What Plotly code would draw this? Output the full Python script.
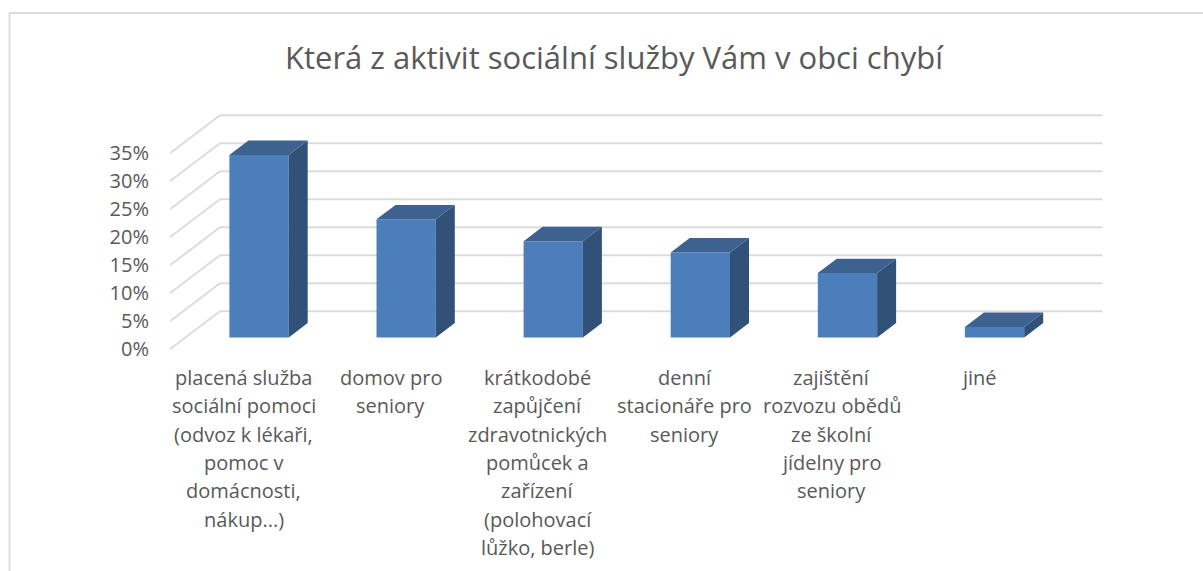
import plotly.graph_objects as go

title = "Která z aktivit sociální služby Vám v obci chybí"
categories = [
    ["placená služba", "sociální pomoci", "(odvoz k lékaři,", "pomoc v", "domácnosti,", "nákup...)"],
    ["domov pro", "seniory"],
    ["krátkodobé", "zapůjčení", "zdravotnických", "pomůcek a", "zařízení", "(polohovací", "lůžko, berle)"],
    ["denní", "stacionáře pro", "seniory"],
    ["zajištění", "rozvozu obědů", "ze školní", "jídelny pro", "seniory"],
    ["jiné"],
]
values = [32.6, 21.1, 17.2, 15.2, 11.5, 1.9]
y_ticks = [0, 5, 10, 15, 20, 25, 30, 35]

W, H = 1203, 571
PX_X = 147.1
PX_Y = 5.6
X0, Y0 = 170.0, 349.3
DX = 50.0 / PX_X
DY = 38.0 / PX_Y
D_FRONT, D_BACK = 0.31, 0.69
BAR_W = 59.3 / PX_X

C_FRONT, C_TOP, C_SIDE = "#4d7ebc", "#3d6290", "#315179"
C_GRID, C_TEXT = "#dcdcdc", "#595959"
FONT = "Open Sans"

n = len(values)
x_max = n + DX
top_px = 100.0
y_max = (Y0 - top_px) / PX_Y
y_min = -(H - Y0) / PX_Y
right_px = X0 + x_max * PX_X

fig = go.Figure()

centers = [i + 0.5 + D_FRONT * DX for i in range(n)]
fig.add_trace(go.Bar(
    x=centers, y=values, base=[D_FRONT * DY] * n, width=BAR_W,
    marker=dict(color=C_FRONT, line=dict(width=0)), showlegend=False, hoverinfo="skip",
))

dd = D_BACK - D_FRONT
for c, v in zip(centers, values):
    l, r = c - BAR_W / 2, c + BAR_W / 2
    b = D_FRONT * DY
    t = b + v
    fig.add_trace(go.Scatter(
        x=[l, r, r + dd * DX, l + dd * DX, l], y=[t, t, t + dd * DY, t + dd * DY, t],
        mode="lines", fill="toself", fillcolor=C_TOP, line=dict(width=0),
        showlegend=False, hoverinfo="skip"))
    fig.add_trace(go.Scatter(
        x=[r, r + dd * DX, r + dd * DX, r, r], y=[b, b + dd * DY, t + dd * DY, t, b],
        mode="lines", fill="toself", fillcolor=C_SIDE, line=dict(width=0),
        showlegend=False, hoverinfo="skip"))

shapes = []
for v in y_ticks:
    shapes.append(dict(type="line", xref="x", yref="y", layer="below",
                       x0=0, y0=v, x1=DX, y1=v + DY, line=dict(color=C_GRID, width=2)))
    shapes.append(dict(type="line", xref="x", yref="y", layer="below",
                       x0=DX, y0=v + DY, x1=x_max, y1=v + DY, line=dict(color=C_GRID, width=2)))
shapes.append(dict(type="line", xref="paper", yref="paper", x0=9.5 / W, x1=9.5 / W,
                   y0=0, y1=1 - 13 / H, line=dict(color=C_GRID, width=2)))
shapes.append(dict(type="line", xref="paper", yref="paper", x0=9 / W, x1=1203 / W,
                   y0=1 - 13 / H, y1=1 - 13 / H, line=dict(color=C_GRID, width=2)))

annotations = []
LINE_PX = 28.3
FIRST_PX = 377.5
for i, lines in enumerate(categories):
    for k, line in enumerate(lines):
        annotations.append(dict(
            x=i + 0.5, xref="x", y=(Y0 - (FIRST_PX + k * LINE_PX)) / PX_Y, yref="y",
            text=line, showarrow=False, xanchor="center", yanchor="middle",
            font=dict(family=FONT, size=20, color=C_TEXT)))

fig.update_layout(
    width=W, height=H, autosize=False,
    margin=dict(l=0, r=0, t=0, b=0),
    paper_bgcolor="white", plot_bgcolor="rgba(0,0,0,0)",
    showlegend=False, barmode="overlay",
    title=dict(text=title, x=614 / W, xanchor="center", y=1 - 58 / H, yanchor="middle",
               font=dict(family=FONT, size=31, color=C_TEXT)),
    font=dict(family=FONT, color=C_TEXT),
    shapes=shapes, annotations=annotations,
    xaxis=dict(domain=[X0 / W, right_px / W], range=[0, x_max], showgrid=False, automargin=False,
               zeroline=False, showline=False, showticklabels=False, ticks=""),
    yaxis=dict(domain=[0, 1 - top_px / H], range=[y_min, y_max], showgrid=False, automargin=False,
               zeroline=False, showline=False, tickmode="array", tickvals=y_ticks,
               ticktext=[f"{v}%" for v in y_ticks], ticks="", ticklabelstandoff=20,
               tickfont=dict(family=FONT, size=20, color=C_TEXT)),
)

fig.write_html("out.html", post_script="document.body.style.margin='0';",
               config=dict(displayModeBar=False))
